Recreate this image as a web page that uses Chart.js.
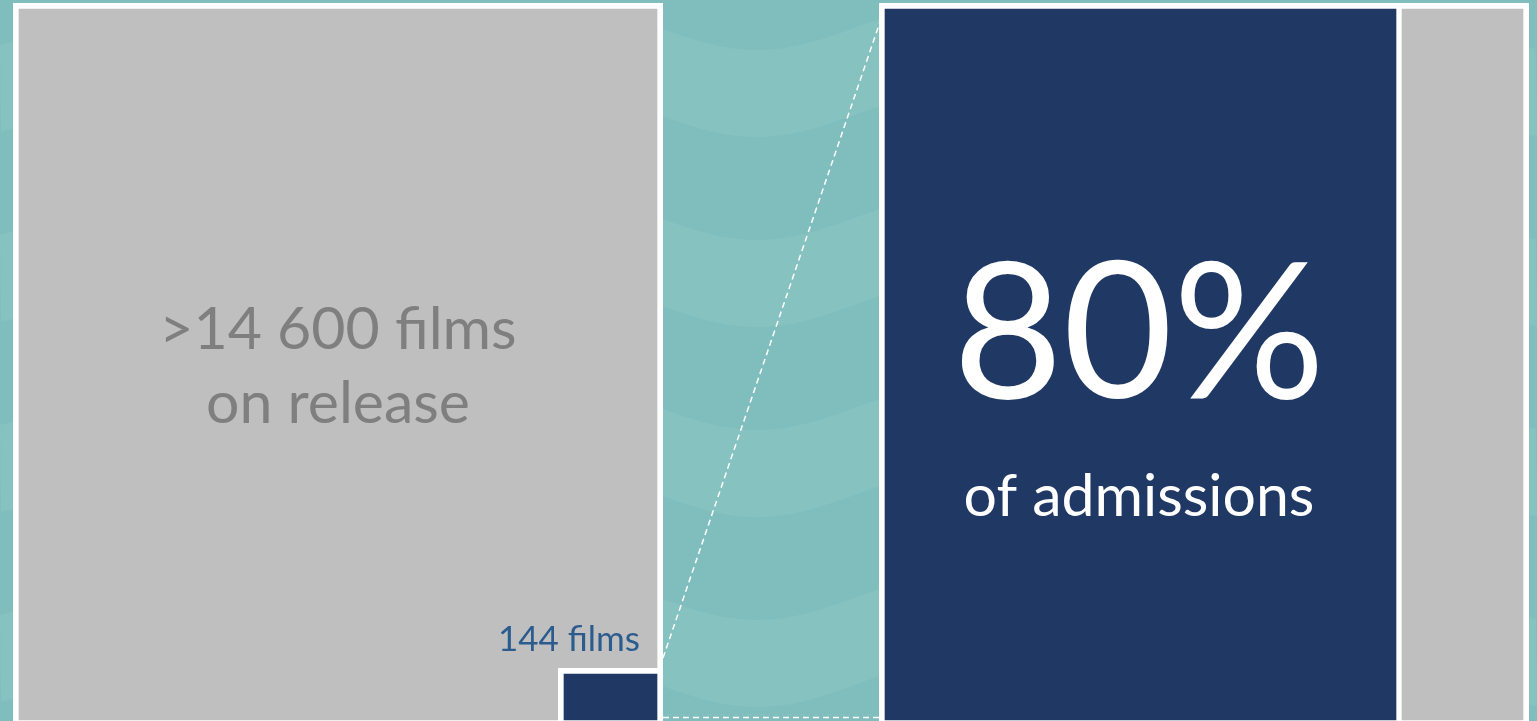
<!DOCTYPE html>
<html>
<head>
<meta charset="utf-8">
<title>Films on release and share of admissions</title>
<script src="https://cdn.jsdelivr.net/npm/chart.js@4.4.1/dist/chart.umd.min.js"></script>
<style>
  html, body { margin: 0; padding: 0; width: 1537px; height: 721px; overflow: hidden; background: #80bebe; }
  canvas { position: absolute; }
  #bgCanvas { left: 0; top: 0; }
  #releaseChart { left: 13px; top: 3px; }
  #topFilmsChart { left: 558px; top: 668px; }
  #admissionsChart { left: 879px; top: 3px; }
  #linkCanvas { left: 0; top: 0; pointer-events: none; }
</style>
</head>
<body>
<canvas id="bgCanvas" width="1537" height="721"></canvas>
<canvas id="releaseChart" width="650" height="723"></canvas>
<canvas id="topFilmsChart" width="105" height="58"></canvas>
<canvas id="admissionsChart" width="650" height="723"></canvas>
<canvas id="linkCanvas" width="1537" height="721"></canvas>

<script>
// Data
const releaseLabels = ['Films on release'];
const filmsOnRelease = [14600];
const topFilmsLabels = ['Top films'];
const topFilms = [144];
const admissionsLabels = ['Admissions'];
const topFilmsShare = [80];
const otherFilmsShare = [20];

const NAVY = '#203864';
const GREY = '#bfbfbf';
const FONT = 'Lato, "Open Sans", sans-serif';

// Wavy teal background
function drawBackground() {
    const ctx = document.getElementById('bgCanvas').getContext('2d');
    ctx.fillStyle = '#80bebe';
    ctx.fillRect(0, 0, 1537, 721);
    ctx.fillStyle = '#85c2c0';
    const wave = x => 23 * Math.sin(2 * Math.PI * (x - 757) / 400 + Math.PI / 2);
    for (let k = -2; k < 4; k++) {
        const top = 217 + 190 * k;
        ctx.beginPath();
        for (let x = 0; x <= 1537; x += 4) ctx.lineTo(x, top + wave(x));
        for (let x = 1537; x >= 0; x -= 4) ctx.lineTo(x, top + 87 + wave(x));
        ctx.closePath();
        ctx.fill();
    }
}

// Dashed "zoom" connectors between the small box and the right panel
function drawConnectors() {
    const ctx = document.getElementById('linkCanvas').getContext('2d');
    ctx.strokeStyle = '#ffffff';
    ctx.lineWidth = 1.5;
    ctx.setLineDash([6, 4]);
    ctx.beginPath();
    ctx.moveTo(663, 658);
    ctx.lineTo(880, 22);
    ctx.moveTo(663, 717.5);
    ctx.lineTo(880, 717.5);
    ctx.stroke();
}

function baseOptions() {
    return {
        responsive: false,
        animation: false,
        layout: { padding: 0 },
        plugins: { legend: { display: false }, tooltip: { enabled: false } },
        scales: {
            x: { display: false },
            y: { display: false }
        }
    };
}

// Left panel: all films on release
const releaseText = {
    id: 'releaseText',
    afterDatasetsDraw(chart) {
        const ctx = chart.ctx;
        const bar = chart.getDatasetMeta(0).data[0];
        ctx.save();
        ctx.fillStyle = '#7f7f7f';
        ctx.font = '59px ' + FONT;
        ctx.textAlign = 'center';
        ctx.textBaseline = 'alphabetic';
        ctx.fillText('>14 600 films', bar.x, 346);
        ctx.fillText('on release', bar.x, 420);
        ctx.fillStyle = '#2b5c8d';
        ctx.font = '35px ' + FONT;
        ctx.textAlign = 'right';
        ctx.fillText('144 films', 627, 648);
        ctx.restore();
    }
};

function drawReleaseChart() {
    const opts = baseOptions();
    opts.scales.y.min = 0;
    opts.scales.y.max = filmsOnRelease[0];
    new Chart(document.getElementById('releaseChart').getContext('2d'), {
        type: 'bar',
        data: {
            labels: releaseLabels,
            datasets: [{
                data: filmsOnRelease,
                backgroundColor: GREY,
                borderColor: '#ffffff',
                borderWidth: 6,
                borderSkipped: false,
                barPercentage: 1,
                categoryPercentage: 1
            }]
        },
        options: opts,
        plugins: [releaseText]
    });
}

// Small box: the top films
function drawTopFilmsChart() {
    const opts = baseOptions();
    opts.scales.y.min = 0;
    opts.scales.y.max = topFilms[0];
    new Chart(document.getElementById('topFilmsChart').getContext('2d'), {
        type: 'bar',
        data: {
            labels: topFilmsLabels,
            datasets: [{
                data: topFilms,
                backgroundColor: NAVY,
                borderColor: '#ffffff',
                borderWidth: 6,
                borderSkipped: false,
                barPercentage: 1,
                categoryPercentage: 1
            }]
        },
        options: opts
    });
}

// Right panel: share of admissions
const admissionsText = {
    id: 'admissionsText',
    afterDatasetsDraw(chart) {
        const ctx = chart.ctx;
        const bar = chart.getDatasetMeta(0).data[0];
        const cx = (bar.base + bar.x) / 2;
        ctx.save();
        ctx.fillStyle = '#ffffff';
        ctx.textAlign = 'center';
        ctx.textBaseline = 'alphabetic';
        ctx.font = '190px ' + FONT;
        ctx.fillText(topFilmsShare[0] + '%', cx, 395);
        ctx.font = '59px ' + FONT;
        ctx.fillText('of admissions', cx, 513);
        ctx.restore();
    }
};

function drawAdmissionsChart() {
    const opts = baseOptions();
    opts.indexAxis = 'y';
    opts.scales.x.min = 0;
    opts.scales.x.max = 100;
    opts.scales.x.stacked = true;
    opts.scales.y.stacked = true;
    new Chart(document.getElementById('admissionsChart').getContext('2d'), {
        type: 'bar',
        data: {
            labels: admissionsLabels,
            datasets: [{
                label: 'Top films',
                data: topFilmsShare,
                backgroundColor: NAVY,
                borderColor: '#ffffff',
                borderWidth: { top: 6, bottom: 6, left: 6, right: 3 },
                borderSkipped: false,
                barPercentage: 1,
                categoryPercentage: 1
            }, {
                label: 'Other films',
                data: otherFilmsShare,
                backgroundColor: GREY,
                borderColor: '#ffffff',
                borderWidth: { top: 6, bottom: 6, left: 3, right: 6 },
                borderSkipped: false,
                barPercentage: 1,
                categoryPercentage: 1
            }]
        },
        options: opts,
        plugins: [admissionsText]
    });
}

drawBackground();
drawReleaseChart();
drawTopFilmsChart();
drawAdmissionsChart();
drawConnectors();
</script>
</body>
</html>
